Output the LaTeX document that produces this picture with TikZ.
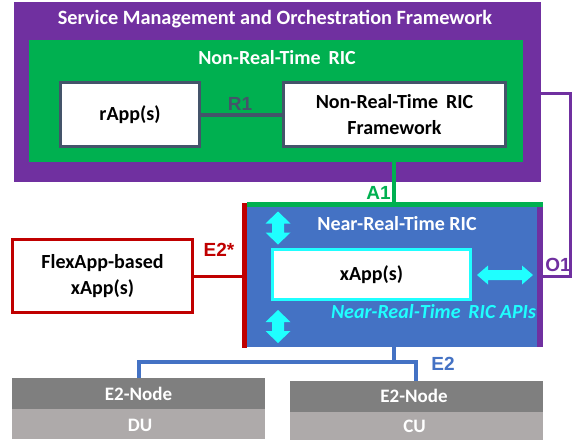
\documentclass[tikz,border=0pt]{standalone}
\usepackage{fontspec}
\setmainfont{Carlito}
\newfontfamily\arialf{Liberation Sans}
\usetikzlibrary{calc}
\definecolor{cpurple}{HTML}{7030A0}
\definecolor{cgreen}{HTML}{00B050}
\definecolor{cblue}{HTML}{4472C4}
\definecolor{ccyan}{HTML}{1FFFFF}
\definecolor{cred}{HTML}{C00000}
\definecolor{cdark}{HTML}{7F7F7F}
\definecolor{clight}{HTML}{AEAAAA}
\definecolor{cnavy}{HTML}{44546A}
\tikzset{
  panel/.style={anchor=north west,inner sep=0pt,outer sep=0pt,minimum width=#1},
  wlabel/.style={text=white,font=\fontsize{20}{24}\selectfont\bfseries,inner sep=0pt},
  nodelabel/.style={text=white,font=\fontsize{19}{23}\selectfont\bfseries,inner sep=0pt},
  blabel/.style={text=black,font=\fontsize{20}{26}\selectfont\bfseries,inner sep=0pt,align=center},
  iface/.style={font=\arialf\fontsize{19}{22}\selectfont\bfseries,inner sep=0pt},
  navybox/.style={panel=#1,draw=cnavy,fill=white,line width=3.4pt,outer sep=0pt}
}
\newcommand{\vdblarrow}[2]{\fill[ccyan] (#1,#2-16.5) -- (#1+12.5,#2-4.5) -- (#1+6,#2-4.5) -- (#1+6,#2+4.5) -- (#1+12.5,#2+4.5) -- (#1,#2+16.5) -- (#1-12.5,#2+4.5) -- (#1-6,#2+4.5) -- (#1-6,#2-4.5) -- (#1-12.5,#2-4.5) -- cycle;}
\newcommand{\hdblarrow}[2]{\fill[ccyan] (#1-28,#2) -- (#1-17,#2-9.5) -- (#1-17,#2-5) -- (#1+17,#2-5) -- (#1+17,#2-9.5) -- (#1+28,#2) -- (#1+17,#2+9.5) -- (#1+17,#2+5) -- (#1-17,#2+5) -- (#1-17,#2+9.5) -- cycle;}
\begin{document}
\begin{tikzpicture}[x=1pt,y=-1pt]
\useasboundingbox (0,0) rectangle (572,440);
\fill[white] (0,0) rectangle (572,440);
\coordinate (o1top) at (570.5,93);
\coordinate (o1bot) at (570.5,276);
\coordinate (a1x) at (393.5,0);
\coordinate (e2bus) at (393.5,362);
\node[panel=527pt,minimum height=180pt,fill=cpurple] (smo) at (14,2) {};
\node[panel=494pt,minimum height=122pt,fill=cgreen] (nrt) at (29,40) {};
\node[panel=290pt,minimum height=140pt,fill=cblue] (near) at (247,207) {};
\node[panel=5pt,minimum height=145pt,fill=cred] (redbar) at (242,202.5) {};
\node[panel=296pt,minimum height=5pt,fill=cgreen] (greenbar) at (247,202) {};
\node[panel=6pt,minimum height=140pt,fill=cpurple] (purplebar) at (537,207) {};
\node[wlabel,font=\fontsize{20.3}{24}\selectfont\bfseries] (smot) at (275,19) {Service Management and Orchestration Framework};
\node[wlabel] (nrtt) at (277,58) {Non-Real-Time\, RIC};
\node[wlabel] (neart) at (397,224) {Near-Real-Time RIC};
\node[navybox=139pt,minimum height=64pt] (rapp) at (60.5,82.5) {};
\node[navybox=222pt,minimum height=64pt] (fw) at (283.5,82.5) {};
\node[blabel] at (rapp) {rApp(s)};
\node[blabel] at (fw) {Non-Real-Time\, RIC\\Framework};
\draw[cnavy,line width=4pt] (rapp.east) -- (fw.west);
\node[iface,text=cnavy] (r1) at (240,104) {R1};
\draw[cgreen,line width=4pt] (nrt.south -| a1x) -- (greenbar.north -| a1x);
\node[iface,text=cgreen] (a1) at (378.5,193) {A1};
\node[panel=198pt,draw=ccyan,fill=white,line width=3.4pt,minimum height=50pt] (xapp) at (272.5,249.5) {};
\node[blabel] at (xapp) {xApp(s)};
\hdblarrow{505}{275}
\vdblarrow{278}{228}
\vdblarrow{278}{326.5}
\node[text=ccyan,font=\fontsize{20}{24}\selectfont\bfseries\itshape,inner sep=0pt] (apis) at (433.5,312) {Near-Real-Time\, RIC APIs};
\draw[cpurple,line width=3pt] (smo.east |- o1top) -- (o1top) -- (o1bot) -- (purplebar.east |- o1bot);
\node[iface,text=cpurple] (o1) at (558,265) {O1};
\node[panel=180pt,draw=cred,fill=white,line width=3pt,minimum height=73pt] (flex) at (12.5,239.5) {};
\node[blabel] at (flex) {FlexApp-based\\xApp(s)};
\draw[cred,line width=3pt] (flex.east) -- (flex.east -| redbar.west);
\node[iface,text=cred] (e2s) at (219,250) {E2*};
\node[panel=253pt,minimum height=31pt,fill=cdark] (du1) at (12,378) {};
\node[panel=253pt,minimum height=30pt,fill=clight] (du2) at (12,409) {};
\node[panel=253pt,minimum height=31pt,fill=cdark] (cu1) at (290,381) {};
\node[panel=253pt,minimum height=28pt,fill=clight] (cu2) at (290,412) {};
\node[nodelabel] at (du1) {E2-Node};
\node[nodelabel] at (140,425) {DU};
\node[nodelabel] at (414,396) {E2-Node};
\node[nodelabel] at (414.5,426) {CU};
\draw[cblue,line width=4pt] (near.south -| e2bus) -- (e2bus);
\draw[cblue,line width=4pt] (du1.north -| 139,0) |- (e2bus) -| (cu1.north -| 416,0);
\node[iface,text=cblue] (e2) at (443,364) {E2};
\end{tikzpicture}
\end{document}
